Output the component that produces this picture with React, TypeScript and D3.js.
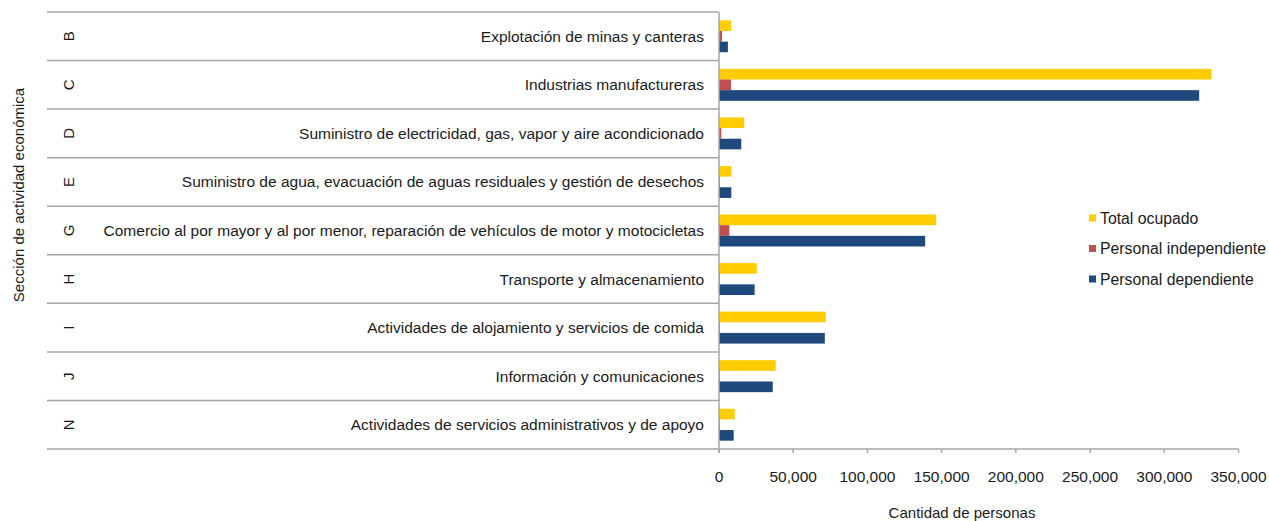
import React from "react";
import * as d3 from "d3";

const sections = ["B", "C", "D", "E", "G", "H", "I", "J", "N"];
const categories = [
  "Explotación de minas y canteras",
  "Industrias manufactureras",
  "Suministro de electricidad, gas, vapor y aire acondicionado",
  "Suministro de agua, evacuación de aguas residuales y gestión de desechos",
  "Comercio al por mayor y al por menor, reparación de vehículos de motor y motocicletas",
  "Transporte y almacenamiento",
  "Actividades de alojamiento y servicios de comida",
  "Información y comunicaciones",
  "Actividades de servicios administrativos y de apoyo",
];
const totalOcupado = [8100, 331800, 17000, 8300, 146300, 25400, 71900, 38200, 10600];
const personalIndependiente = [2000, 8100, 1500, 600, 7000, 500, 600, 500, 500];
const personalDependiente = [6000, 323500, 15000, 8300, 138900, 24000, 71300, 36200, 9900];
const tickValues = [0, 50000, 100000, 150000, 200000, 250000, 300000, 350000];

const seriesNames = ["Total ocupado", "Personal independiente", "Personal dependiente"];
const seriesValues = [totalOcupado, personalIndependiente, personalDependiente];
const seriesColors = ["#FFCC00", "#C0504D", "#1F497D"];

const FONT = "'Liberation Sans', Arial, sans-serif";

export default function App() {
  const W = 1269;
  const H = 521;
  const x0 = 719;
  const x1 = 1238.5;
  const yTop = 12;
  const yBot = 449;
  const tableLeft = 47;

  const x = d3.scaleLinear().domain([0, 350000]).range([x0, x1]);
  const y = d3.scaleBand<string>().domain(sections).range([yTop, yBot]).paddingInner(0).paddingOuter(0);
  const inner = d3
    .scaleBand<string>()
    .domain(seriesNames)
    .range([0, y.bandwidth()])
    .paddingInner(0)
    .paddingOuter(0.78);
  const fmt = d3.format(",");
  const grey = "#a6a6a6";
  const ink = "#1a1a1a";

  return (
    <svg width={W} height={H} style={{ position: "absolute", left: 0, top: 0, fontFamily: FONT }}>
      <rect width={W} height={H} fill="#fff" />
      {/* table rows */}
      {sections.map((s, i) => (
        <g key={s}>
          <line x1={tableLeft} x2={x0} y1={y(s)!} y2={y(s)!} stroke={grey} strokeWidth={1.5} />
          <text
            transform={`translate(${68},${y(s)! + y.bandwidth() / 2}) rotate(-90)`}
            textAnchor="middle"
            dominantBaseline="central"
            fontSize={15}
            fill={ink}
          >
            {s}
          </text>
          <text
            x={704}
            y={y(s)! + y.bandwidth() / 2}
            textAnchor="end"
            dominantBaseline="central"
            fontSize={15.5}
            fill={ink}
          >
            {categories[i]}
          </text>
        </g>
      ))}
      <line x1={tableLeft} x2={x0} y1={yBot} y2={yBot} stroke={grey} strokeWidth={1.5} />

      {/* bars */}
      {seriesNames.map((name, si) => (
        <g key={name}>
          {sections.map((s, i) => (
            <rect
              key={s}
              x={x(0)}
              y={y(s)! + inner(name)!}
              width={Math.max(0, x(seriesValues[si][i]) - x(0))}
              height={inner.bandwidth()}
              fill={seriesColors[si]}
            />
          ))}
        </g>
      ))}

      {/* axes */}
      <line x1={x0} x2={x0} y1={yTop} y2={yBot + 4} stroke={grey} strokeWidth={1.5} />
      <line x1={x0} x2={x1} y1={yBot} y2={yBot} stroke={grey} strokeWidth={1.5} />
      {tickValues.map((t) => (
        <g key={t}>
          <line x1={x(t)} x2={x(t)} y1={yBot} y2={yBot + 4} stroke={grey} strokeWidth={1.5} />
          <text x={x(t)} y={476} textAnchor="middle" dominantBaseline="central" fontSize={15.5} fill={ink}>
            {fmt(t)}
          </text>
        </g>
      ))}
      <text x={962} y={512} textAnchor="middle" dominantBaseline="central" fontSize={15} fill={ink}>
        Cantidad de personas
      </text>
      <text
        transform={`translate(18,195) rotate(-90)`}
        textAnchor="middle"
        dominantBaseline="central"
        fontSize={15}
        fill={ink}
      >
        Sección de actividad económica
      </text>

      {/* legend */}
      {seriesNames.map((name, si) => (
        <g key={name} transform={`translate(1089,${218 + si * 30.5})`}>
          <rect x={0} y={-3.5} width={7} height={7} fill={seriesColors[si]} />
          <text x={11} y={0} dominantBaseline="central" fontSize={15.8} fill={ink}>
            {name}
          </text>
        </g>
      ))}
    </svg>
  );
}
